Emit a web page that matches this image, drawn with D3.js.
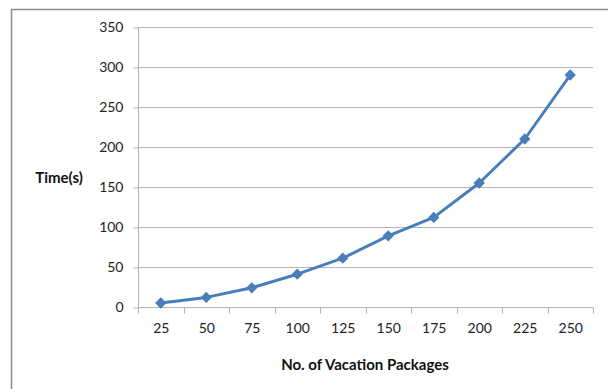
<!DOCTYPE html>
<html><head><meta charset="utf-8">
<script src="https://cdn.jsdelivr.net/npm/d3@7"></script>
<style>body{margin:0;background:#fff}svg{display:block}</style>
</head><body>
<svg id="c" width="608" height="389"></svg>
<script>
const categories = [25, 50, 75, 100, 125, 150, 175, 200, 225, 250];
const times = [5, 12, 24, 41, 61, 89, 112, 155, 210, 290];
const yTicks = [0, 50, 100, 150, 200, 250, 300, 350];
const xTitle = "No. of Vacation Packages";
const yTitle = "Time(s)";

const svg = d3.select("#c");
const font = "Lato, 'Liberation Sans', sans-serif";
const W = 608, H = 389;
const m = {left: 138, right: 593, top: 27, bottom: 307};

// outer frame
svg.append("path").attr("d", `M11.5,${H} V9.5 H${W}`).attr("fill","none").attr("stroke","#8c8c8c").attr("stroke-width",1.5);

const x = d3.scaleBand().domain(categories).range([m.left, m.right]);
const y = d3.scaleLinear().domain([0, 350]).range([m.bottom, m.top]);

// gridlines
svg.append("g").selectAll("line").data(yTicks.filter(d=>d>0)).join("line")
  .attr("x1", m.left).attr("x2", m.right)
  .attr("y1", d=>Math.round(y(d))+0.5).attr("y2", d=>Math.round(y(d))+0.5)
  .attr("stroke","#b3b3b3").attr("stroke-width",1);

// y axis
const ya = svg.append("g").attr("transform",`translate(${m.left+0.5},0.5)`)
  .call(d3.axisLeft(y).tickValues(yTicks).tickSize(5).tickPadding(10));
ya.select(".domain").attr("stroke","#b3b3b3").attr("d",`M0,${m.bottom}V${m.top}`);
ya.selectAll(".tick line").attr("stroke","#b3b3b3");
ya.selectAll("text").attr("font-family",font).attr("font-size",14).attr("fill","#222");

// x axis
const xa = svg.append("g").attr("transform",`translate(0.5,${m.bottom+0.5})`)
  .call(d3.axisBottom(x).tickSize(0).tickPadding(16));
xa.select(".domain").attr("stroke","#b3b3b3").attr("d",`M${m.left},0H${m.right}`);
xa.selectAll("text").attr("font-family",font).attr("font-size",14).attr("fill","#222");
// boundary tick marks
const bounds = categories.map(c=>x(c)).concat([m.right]);
xa.selectAll(".btick").data(bounds).join("line").attr("class","btick")
  .attr("x1",d=>Math.round(d)).attr("x2",d=>Math.round(d)).attr("y1",0).attr("y2",6)
  .attr("stroke","#b3b3b3");

// line
const cx = (d,i)=>x(categories[i])+x.bandwidth()/2;
const line = d3.line().x(cx).y(d=>y(d));
svg.append("path").datum(times).attr("d",line).attr("fill","none")
  .attr("stroke","#4a7ebb").attr("stroke-width",3).attr("stroke-linejoin","round");
svg.append("g").selectAll("path").data(times).join("path")
  .attr("d", d3.symbol(d3.symbolSquare, 64)())
  .attr("transform",(d,i)=>`translate(${cx(d,i)},${y(d)}) rotate(45)`)
  .attr("fill","#4a7ebb");

// titles
svg.append("text").attr("x",365).attr("y",370)
  .attr("text-anchor","middle").attr("font-family",font).attr("font-size",15).attr("font-weight","bold").attr("fill","#111").text(xTitle);
svg.append("text").attr("x",59).attr("y",183)
  .attr("text-anchor","middle").attr("font-family",font).attr("font-size",15).attr("font-weight","bold").attr("fill","#111").text(yTitle);
</script>
</body></html>
